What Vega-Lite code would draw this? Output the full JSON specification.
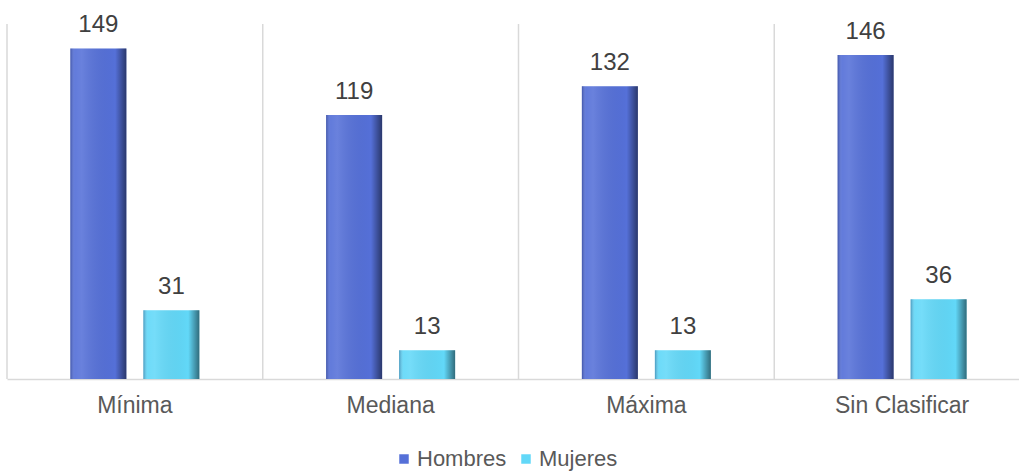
{
  "$schema": "https://vega.github.io/schema/vega-lite/v6.json",
  "autosize": "none",
  "width": 1023,
  "height": 355,
  "padding": {"left": 7, "top": 24, "right": 0, "bottom": 94},
  "background": "white",
  "config": {"view": {"stroke": null}, "font": "Liberation Sans"},
  "datasets": {
    "bars": [
      {"cat": "Mínima", "sexo": "Hombres", "valor": 149},
      {"cat": "Mínima", "sexo": "Mujeres", "valor": 31},
      {"cat": "Mediana", "sexo": "Hombres", "valor": 119},
      {"cat": "Mediana", "sexo": "Mujeres", "valor": 13},
      {"cat": "Máxima", "sexo": "Hombres", "valor": 132},
      {"cat": "Máxima", "sexo": "Mujeres", "valor": 13},
      {"cat": "Sin Clasificar", "sexo": "Hombres", "valor": 146},
      {"cat": "Sin Clasificar", "sexo": "Mujeres", "valor": 36}
    ],
    "cats": [
      {"cat": "Mínima"}, {"cat": "Mediana"}, {"cat": "Máxima"}, {"cat": "Sin Clasificar"}
    ]
  },
  "encoding": {
    "x": {
      "field": "cat", "type": "nominal",
      "scale": {"domain": ["Mínima", "Mediana", "Máxima", "Sin Clasificar"], "paddingInner": 0, "paddingOuter": 0},
      "axis": {"title": null, "ticks": false, "domainColor": "#d9d9d9", "domainWidth": 1.5, "labelColor": "#595959", "labelFontSize": 23, "labelPadding": 15, "labelAngle": 0, "grid": false}
    }
  },
  "layer": [
    {
      "data": {"name": "cats"},
      "mark": {"type": "rule", "color": "#d9d9d9", "strokeWidth": 1.5},
      "encoding": {"x": {"field": "cat", "type": "nominal", "bandPosition": 0}}
    },
    {
      "data": {"name": "bars"},
      "mark": {"type": "bar"},
      "encoding": {
        "xOffset": {"field": "sexo", "type": "nominal", "scale": {"paddingInner": 0.233, "paddingOuter": 0.868}},
        "y": {"field": "valor", "type": "quantitative", "scale": {"domain": [0, 160]}, "axis": null},
        "color": {
          "field": "sexo", "type": "nominal",
          "scale": {"domain": ["Hombres", "Mujeres"], "range": ["#5570D8", "#62D8F8"]},
          "legend": {"title": null, "orient": "none", "direction": "horizontal", "legendX": 386, "legendY": 424, "symbolType": "square", "symbolSize": 90, "labelFontSize": 22, "labelColor": "#595959", "columnPadding": 8, "labelOffset": 2, "symbolStrokeWidth": 0}
        }
      }
    },
    {
      "data": {"name": "bars"},
      "mark": {
        "type": "bar",
        "fill": {"gradient": "linear", "x1": 0, "y1": 0, "x2": 1, "y2": 0, "stops": [
          {"offset": 0, "color": "rgba(20,30,80,0.35)"},
          {"offset": 0.08, "color": "rgba(255,255,255,0.08)"},
          {"offset": 0.2, "color": "rgba(255,255,255,0.12)"},
          {"offset": 0.8, "color": "rgba(0,0,0,0)"},
          {"offset": 0.9, "color": "rgba(0,0,0,0.25)"},
          {"offset": 1, "color": "rgba(0,0,0,0.5)"}
        ]}
      },
      "encoding": {
        "xOffset": {"field": "sexo", "type": "nominal", "scale": {"paddingInner": 0.233, "paddingOuter": 0.868}},
        "y": {"field": "valor", "type": "quantitative"}
      }
    },
    {
      "data": {"name": "bars"},
      "mark": {"type": "text", "baseline": "alphabetic", "dy": -16, "fontSize": 24, "color": "#404040"},
      "encoding": {
        "xOffset": {"field": "sexo", "type": "nominal", "scale": {"paddingInner": 0.233, "paddingOuter": 0.868}},
        "y": {"field": "valor", "type": "quantitative"},
        "text": {"field": "valor", "type": "quantitative"}
      }
    }
  ]
}
